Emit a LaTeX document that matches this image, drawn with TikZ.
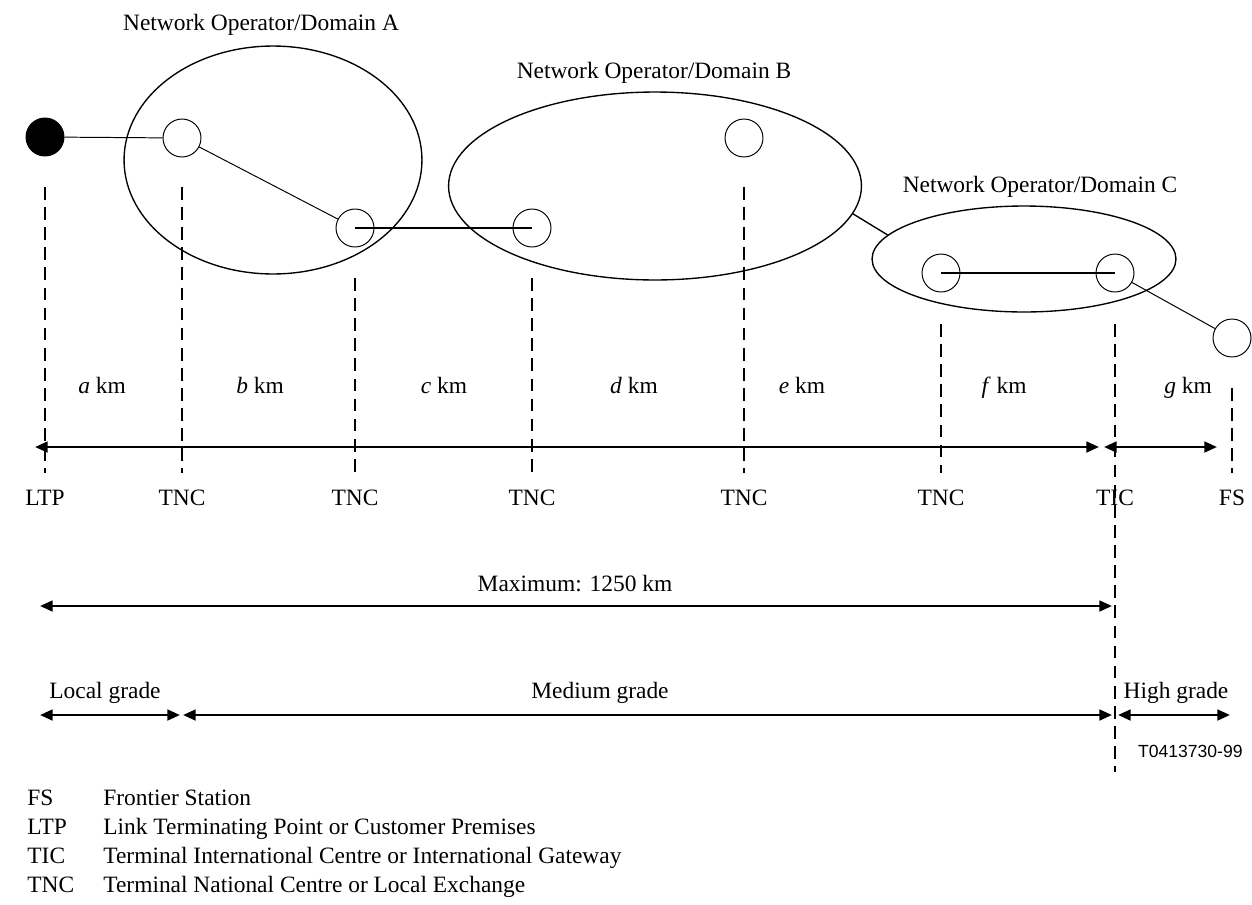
\documentclass[tikz,border=0pt]{standalone}
\usepackage{fontspec}
\setmainfont{Liberation Serif}
\newfontfamily\figfont{Liberation Sans}
\usetikzlibrary{arrows.meta,shapes.geometric}
\tikzstyle{every node}=[inner sep=0pt]
\tikzset{station/.style={circle, draw, line width=0.5pt, minimum size=0.684cm}}
\tikzset{endstation/.style={station, fill=black}}
\tikzset{opdomain/.style={ellipse, draw, line width=0.7pt}}
\tikzset{link/.style={line width=0.5pt}}
\tikzset{trunk/.style={line width=1.2pt}}
\tikzset{guide/.style={line width=1.4pt, dash pattern=on 6.5pt off 3.8pt}}
\tikzset{dimline/.style={line width=1.3pt,
      {Triangle[length=6.5pt,width=5.5pt]}-{Triangle[length=6.5pt,width=5.5pt]}}}

\begin{document}
\begin{tikzpicture}[x=0.018cm,y=-0.018cm,font=\fontsize{12}{14}\selectfont]
    \useasboundingbox (0,0) rectangle (1252,904);
    % operator domains
    \node[opdomain, minimum width=5.364cm, minimum height=4.104cm] (domA) at (273,160) {};
    \node[opdomain, minimum width=7.434cm, minimum height=3.384cm] (domB) at (655,186) {};
    \node[opdomain, minimum width=5.472cm, minimum height=1.908cm] (domC) at (1024,259) {};
    \node[anchor=base] (labA) at (261,30) {Network Operator/Domain A};
    \node[anchor=base] (labB) at (654,78) {Network Operator/Domain B};
    \node[anchor=base] (labC) at (1040,192) {Network Operator/Domain C};

    % stations
    \node[endstation] (ltp) at (45,137) {};
    \node[station] (a1) at (182,138) {};
    \node[station] (a2) at (355,228) {};
    \node[station] (b1) at (532,228) {};
    \node[station] (b2) at (744,138) {};
    \node[station] (c1) at (941,273) {};
    \node[station] (c2) at (1115,273) {};
    \node[station] (fs) at (1232,338) {};

    \draw[link] (ltp) -- (a1);
    \draw[link] (a1) -- (a2);
    \draw[trunk] (a2.center) -- (b1.center);
    \draw[line width=0.7pt] (domB.-8) -- (domC.170);
    \draw[trunk] (c1.center) -- (c2.center);
    \draw[link] (c2) -- (fs);

    % reference points
    \foreach \x/\top in {45/187,182/187,355/278,532/278,744/187,941/324,1232/388}
      \draw[guide] (\x,\top) -- (\x,473);
    \draw[guide] (1115,324) -- (1115,772);

    \foreach \x/\t [count=\i] in {45/LTP,182/TNC,355/TNC,532/TNC,744/TNC,941/TNC,1115/TIC,1232/FS}
      \node[anchor=base] (pt\i) at (\x,505) {\t};
    \foreach \x/\v [count=\i] in {102/a,260/b,444/c,634/d,802/e,1004/f,1188/g}
      \node[anchor=base] (km\i) at (\x,393) {\textit{\v} km};

    % distances
    \draw[dimline] (35,447) -- (1099,447);
    \draw[dimline] (1104,447) -- (1217,447);
    \node[anchor=base] (maxlab) at (575,591) {Maximum: 1250 km};
    \draw[dimline] (40,606) -- (1112,606);

    % grades
    \node[anchor=base] (gloc) at (105,698) {Local grade};
    \node[anchor=base] (gmed) at (600,698) {Medium grade};
    \node[anchor=base] (ghigh) at (1176,698) {High grade};
    \draw[dimline] (40,715) -- (180,715);
    \draw[dimline] (183,715) -- (1112,715);
    \draw[dimline] (1118,715) -- (1230,715);
    \node[anchor=base east, font=\figfont\fontsize{9}{11}\selectfont] (ref) at (1243,757) {T0413730-99};

    % legend
    \foreach \y/\k/\t [count=\i] in {805/FS/Frontier Station,
        834/LTP/Link Terminating Point or Customer Premises,
        863/TIC/Terminal International Centre or International Gateway,
        892/TNC/Terminal National Centre or Local Exchange}
    {
      \node[anchor=base west] (abbr\i) at (27,\y) {\k};
      \node[anchor=base west] (desc\i) at (103,\y) {\t};
    }
\end{tikzpicture}
\end{document}
